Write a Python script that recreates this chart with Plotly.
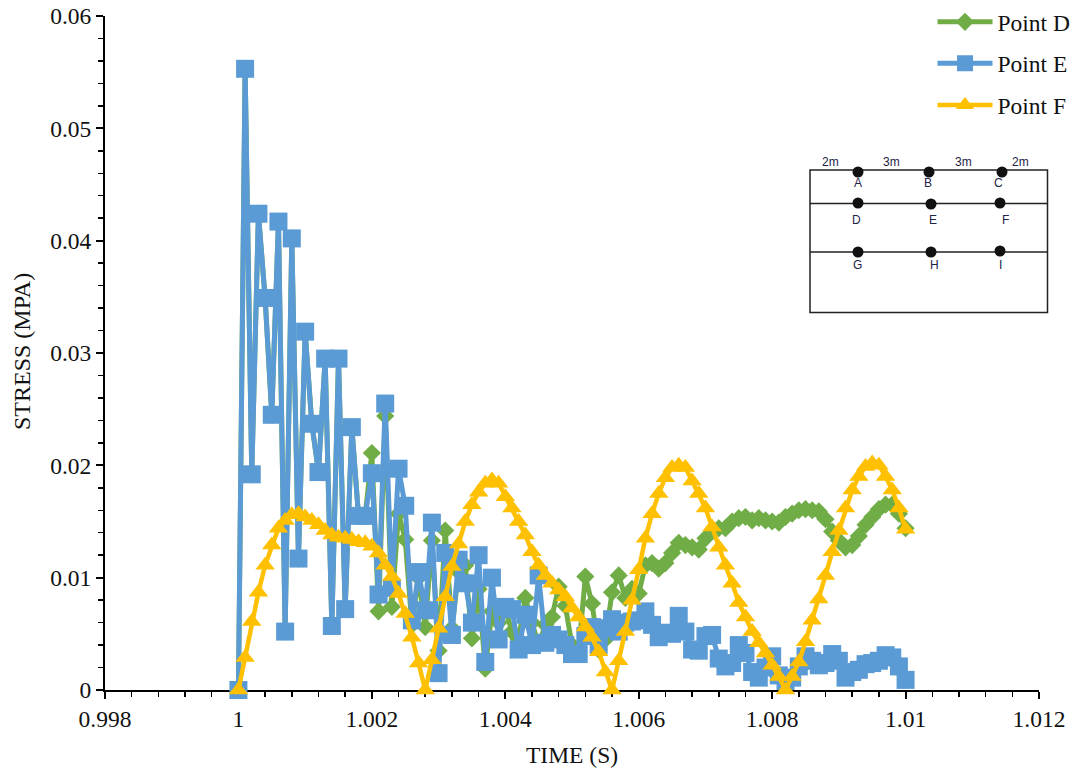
import plotly.graph_objects as go

time_s = [round(1 + i * 0.0001, 4) for i in range(101)]

point_d = [0, .0553, .0192, .0424, .0349, .0245, .0417, .0052, .0402, .0117,
           .0319, .0237, .0194, .0295, .0057, .0295, .0072, .0234, .0155, .0155,
           .0211, .0070, .0244, .0074, .0157, .0134, .0058, .0100, .0056, .0133,
           .0035, .0142, .0055, .0105, .0111, .0046, .0090, .0019, .0070, .0060,
           .0072, .0052, .0045, .0082, .0060, .0040, .0058, .0065, .0092, .0075,
           .0040, .0035, .0101, .0077, .0036, .0045, .0087, .0102, .0082, .0090,
           .0086, .0111, .0113, .0108, .0113, .0122, .0131, .0129, .0127, .0125,
           .0135, .0142, .0144, .0144, .0150, .0153, .0154, .0151, .0153, .0151,
           .0150, .0149, .0154, .0157, .0160, .0161, .0160, .0159, .0152, .0141,
           .0133, .0127, .0129, .0137, .0147, .0154, .0161, .0165, .0165, .0157,
           .0144]

point_e = [0, .0553, .0192, .0424, .0349, .0245, .0417, .0052, .0402, .0117,
           .0319, .0237, .0194, .0295, .0057, .0295, .0072, .0234, .0155, .0155,
           .0193, .0085, .0255, .0091, .0197, .0164, .0062, .0105, .0071, .0149,
           .0015, .0122, .0049, .0116, .0095, .0060, .0120, .0025, .0100, .0045,
           .0074, .0072, .0036, .0067, .0040, .0102, .0042, .0049, .0045, .0040,
           .0032, .0032, .0048, .0056, .0040, .0055, .0063, .0052, .0060, .0061,
           .0062, .0070, .0058, .0047, .0051, .0050, .0066, .0052, .0036, .0035,
           .0048, .0049, .0028, .0021, .0024, .0040, .0033, .0016, .0011, .0020,
           .0030, .0013, .0008, .0011, .0021, .0030, .0026, .0022, .0024, .0032,
           .0026, .0011, .0016, .0018, .0023, .0024, .0026, .0031, .0029, .0021,
           .0009]

point_f = [0, .0029, .0061, .0087, .0111, .0129, .0144, .0151, .0156, .0157,
           .0154, .0151, .0147, .0142, .0138, .0136, .0135, .0134, .0132, .0131,
           .0128, .0122, .0111, .0101, .0086, .0068, .0047, .0024, 0, .0027,
           .0055, .0083, .0110, .0130, .0150, .0165, .0176, .0184, .0187, .0184,
           .0172, .0162, .0150, .0138, .0123, .0111, .0102, .0095, .0089, .0083,
           .0073, .0065, .0056, .0047, .0034, .0016, 0, .0026, .0052, .0080,
           .0107, .0135, .0157, .0175, .0189, .0198, .0200, .0198, .0186, .0175,
           .0162, .0145, .0127, .0111, .0095, .0078, .0065, .0052, .0042, .0033,
           .0022, .0012, 0, .0012, .0025, .0043, .0062, .0081, .0102, .0123,
           .0142, .0162, .0178, .0190, .0199, .0202, .0200, .0190, .0178, .0162,
           .0143]

x_ticks = [0.998, 1, 1.002, 1.004, 1.006, 1.008, 1.01, 1.012]
x_labels = ["0.998", "1", "1.002", "1.004", "1.006", "1.008", "1.01", "1.012"]
y_ticks = [0, 0.01, 0.02, 0.03, 0.04, 0.05, 0.06]
y_labels = ["0", "0.01", "0.02", "0.03", "0.04", "0.05", "0.06"]

W, H = 1080, 771      # figure size, filling the page once the body margin is removed
FONT = "Liberation Serif"

# page pixel -> paper fraction (margins are zero, so paper = whole figure)
def px(x): return x / W
def py(y): return 1 - y / H

fig = go.Figure()
series = [("Point D", point_d, "#70AD47", "diamond", 14, 5),
          ("Point E", point_e, "#5B9BD5", "square", 18, 5),
          ("Point F", point_f, "#FFC000", "triangle-up", 17, 4.5)]
for name, vals, col, sym, ms, lw in series:
    fig.add_trace(go.Scatter(x=time_s, y=vals, name=name, mode="lines+markers",
                             legendgroup=name, cliponaxis=False,
                             line=dict(color=col, width=lw),
                             marker=dict(color=col, symbol=sym, size=ms, line=dict(width=0))))

shapes = []
def line(x0, y0, x1, y1, w=1.5):
    shapes.append(dict(type="line", xref="paper", yref="paper", x0=px(x0), y0=py(y0),
                       x1=px(x1), y1=py(y1), line=dict(color="#222222", width=w), layer="above"))
shapes.append(dict(type="rect", xref="paper", yref="paper", x0=px(810), y0=py(170),
                   x1=px(1047.5), y1=py(312.5), line=dict(color="#222222", width=1.5), layer="above"))
line(810, 203.5, 1047.5, 203.5)
line(810, 252, 1047.5, 252)

inset_dots = [(858, 172), (929, 172), (1002, 172), (858, 203), (931, 204), (1000, 203),
              (858, 252), (931, 252), (1000, 251)]
for cx, cy in inset_dots:
    r = 5.5
    shapes.append(dict(type="circle", xref="paper", yref="paper", x0=px(cx - r), y0=py(cy - r),
                       x1=px(cx + r), y1=py(cy + r), fillcolor="#111111",
                       line=dict(color="#111111", width=0), layer="above"))

inset_labels = [("2m", 830, 162), ("3m", 891, 162), ("3m", 963, 162), ("2m", 1020, 162),
                ("A", 858, 183), ("B", 928, 183), ("C", 998, 183),
                ("D", 856, 220), ("E", 933, 220), ("F", 1005, 220),
                ("G", 857, 265), ("H", 934, 265), ("I", 1000, 265)]
annotations = [dict(text=t, xref="paper", yref="paper", x=px(x), y=py(y), showarrow=False,
                    xanchor="center", yanchor="middle",
                    font=dict(family="Liberation Sans", size=12, color="#222244"))
               for t, x, y in inset_labels]
annotations.append(dict(text="TIME (S)", xref="paper", yref="paper", x=px(572), y=py(755),
                        showarrow=False, xanchor="center", yanchor="middle",
                        font=dict(family=FONT, size=23.5, color="#111111")))
annotations.append(dict(text="STRESS (MPA)", xref="paper", yref="paper", x=px(22), y=py(352),
                        showarrow=False, textangle=-90, xanchor="center", yanchor="middle",
                        font=dict(family=FONT, size=24, color="#111111")))

fig.update_layout(
    width=W, height=H, margin=dict(l=0, r=0, t=0, b=0, pad=0, autoexpand=False),
    plot_bgcolor="white", paper_bgcolor="white",
    font=dict(family=FONT, size=23.5, color="#111111"),
    shapes=shapes, annotations=annotations,
    legend=dict(x=px(1075.5), y=py(0), xanchor="right", yanchor="top", bgcolor="rgba(0,0,0,0)",
                itemwidth=55, tracegroupgap=8, font=dict(family=FONT, size=23.5)),
    xaxis=dict(domain=[px(105), px(1039)], range=[0.998, 1.012], tickvals=x_ticks, ticktext=x_labels,
               showgrid=False, zeroline=False, showline=True, linecolor="black", linewidth=2,
               ticks="outside", ticklen=7, tickwidth=2, tickcolor="black", ticklabeloverflow="allow",
               minor=dict(dtick=0.0004, tick0=0.998, ticks="outside", ticklen=5, tickwidth=1.5, tickcolor="black", showgrid=False),
               tickfont=dict(family=FONT, size=23.5), layer="below traces"),
    yaxis=dict(domain=[py(690), py(16)], range=[0, 0.06], tickvals=y_ticks, ticktext=y_labels,
               showgrid=False, zeroline=False, showline=True, linecolor="black", linewidth=2,
               ticks="outside", ticklen=7, tickwidth=2, tickcolor="black", ticklabeloverflow="allow",
               minor=dict(dtick=0.002, tick0=0, ticks="outside", ticklen=5, tickwidth=1.5, tickcolor="black", showgrid=False),
               tickfont=dict(family=FONT, size=23.5), layer="below traces"),
)
fig.write_html("out.html", config={"staticPlot": True, "displayModeBar": False},
               post_script="document.body.style.margin='0';")
